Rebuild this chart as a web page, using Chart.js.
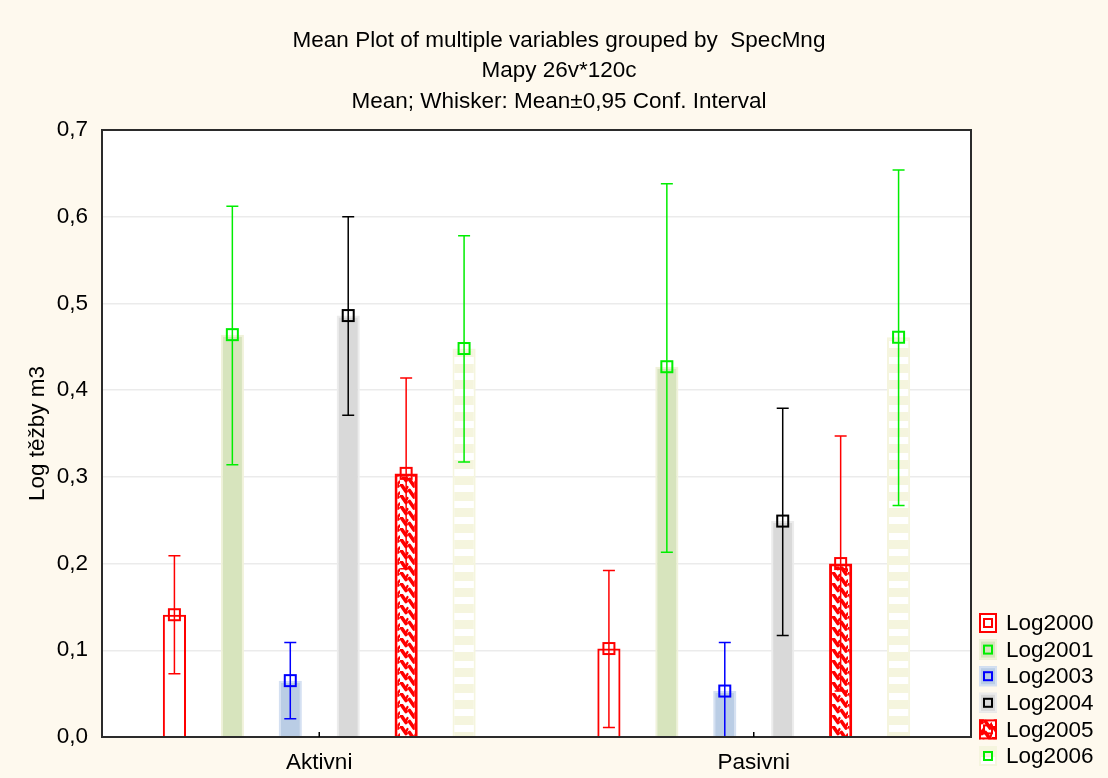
<!DOCTYPE html>
<html><head><meta charset="utf-8">
<script src="https://cdn.jsdelivr.net/npm/chart.js@4.4.1/dist/chart.umd.min.js"></script>
<style>html,body{margin:0;padding:0;background:#FEF9EE;} #wrap{width:1108px;height:778px;position:relative;}</style>
</head><body><div id="wrap"><canvas id="c" width="1108" height="778"></canvas></div>
<script>
// ---- data ----
const categories = ['Aktivni', 'Pasivni'];
const seriesNames = ['Log2000', 'Log2001', 'Log2003', 'Log2004', 'Log2005', 'Log2006'];
const meanLog2000 = [0.141, 0.102];
const meanLog2001 = [0.464, 0.427];
const meanLog2003 = [0.065, 0.053];
const meanLog2004 = [0.486, 0.249];
const meanLog2005 = [0.304, 0.200];
const meanLog2006 = [0.448, 0.461];
const lowLog2000 = [0.073, 0.011];
const lowLog2001 = [0.314, 0.213];
const lowLog2003 = [0.021, -0.004];
const lowLog2004 = [0.371, 0.117];
const lowLog2005 = [0.194, 0.053];
const lowLog2006 = [0.317, 0.267];
const highLog2000 = [0.209, 0.192];
const highLog2001 = [0.612, 0.638];
const highLog2003 = [0.109, 0.109];
const highLog2004 = [0.600, 0.379];
const highLog2005 = [0.414, 0.347];
const highLog2006 = [0.578, 0.654];
const titleLines = ['Mean Plot of multiple variables grouped by  SpecMng', 'Mapy 26v*120c', 'Mean; Whisker: Mean\u00B10,95 Conf. Interval'];
const yAxisTitle = 'Log t\u011B\u017Eby m3';
const yMin = 0, yMax = 0.7, yStep = 0.1;

const means = [meanLog2000, meanLog2001, meanLog2003, meanLog2004, meanLog2005, meanLog2006];
const lows = [lowLog2000, lowLog2001, lowLog2003, lowLog2004, lowLog2005, lowLog2006];
const highs = [highLog2000, highLog2001, highLog2003, highLog2004, highLog2005, highLog2006];

// ---- styles ----
const FONT = "'Liberation Sans', Arial, sans-serif";
const FS = 22.5;
const ctx0 = document.getElementById('c').getContext('2d');
function makePattern(w, h, draw) {
  const c = document.createElement('canvas'); c.width = w; c.height = h;
  const g = c.getContext('2d'); draw(g, w, h);
  return ctx0.createPattern(c, 'repeat');
}
const pat2005 = makePattern(16, 11, (g, w, h) => {
  g.fillStyle = '#ffffff'; g.fillRect(0, 0, w, h);
  g.strokeStyle = '#ff0000'; g.lineWidth = 3.6; g.lineCap = 'round';
  g.beginPath();
  g.moveTo(1.5, 1); g.lineTo(6, 7.5);
  g.moveTo(9.5, 6.5); g.lineTo(14, 13);
  g.moveTo(9.5, -4.5); g.lineTo(14, 2);
  g.stroke();
  g.lineWidth = 2.2;
  g.beginPath();
  g.moveTo(7.5, 3); g.lineTo(6.5, 5);
  g.moveTo(15.5, 8.5); g.lineTo(14.5, 10.5);
  g.stroke();
});
const pat2006 = makePattern(4, 16, (g, w, h) => {
  g.fillStyle = 'rgb(245,245,222)'; g.fillRect(0, 0, w, h);
  g.fillStyle = '#ffffff'; g.fillRect(0, 5, w, 7);
});
const fills = ['rgba(255,255,255,0)', 'rgb(215,228,189)', 'rgb(186,205,229)', 'rgb(217,217,217)', pat2005, pat2006];
const borders = ['#ff0000', 'rgb(240,242,218)', 'rgb(212,224,242)', 'rgb(236,236,236)', '#ff0000', 'rgb(245,245,222)'];
const borderW = [2, 2, 2, 2, 3, 2];
const markColors = ['#ff0000', '#00ee00', '#0000ff', '#000000', '#ff0000', '#00ee00'];

const datasets = seriesNames.map((n, i) => ({
  label: n, data: means[i], backgroundColor: fills[i], borderColor: borders[i], borderWidth: borderW[i],
  categoryPercentage: 0.8, barPercentage: 0.4
}));

const PLOT = { left: 102, top: 130, right: 971, bottom: 737 };

const decoPlugin = {
  id: 'deco',
  beforeDraw(chart) {
    const c = chart.ctx, a = chart.chartArea;
    c.save();
    c.fillStyle = '#FEF9EE'; c.fillRect(0, 0, chart.width, chart.height);
    c.fillStyle = '#ffffff'; c.fillRect(a.left, a.top, a.right - a.left, a.bottom - a.top);
    c.restore();
  },
  afterDatasetsDraw(chart) {
    const c = chart.ctx, a = chart.chartArea, ys = chart.scales.y;
    c.save();
    c.beginPath(); c.rect(a.left, a.top, a.right - a.left, a.bottom - a.top); c.clip();
    datasets.forEach((ds, d) => {
      const meta = chart.getDatasetMeta(d);
      meta.data.forEach((bar, i) => {
        const x = bar.x;
        const yh = ys.getPixelForValue(highs[d][i]);
        const yl = ys.getPixelForValue(lows[d][i]);
        const ym = ys.getPixelForValue(means[d][i]);
        c.strokeStyle = markColors[d]; c.lineWidth = 1.5;
        c.beginPath();
        c.moveTo(x, yh); c.lineTo(x, yl);
        c.moveTo(x - 6, yh); c.lineTo(x + 6, yh);
        c.moveTo(x - 6, yl); c.lineTo(x + 6, yl);
        c.stroke();
        c.lineWidth = 2;
        c.strokeRect(x - 5.5, ym - 5.5, 11, 11);
      });
    });
    c.restore();
  },
  afterDraw(chart) {
    const c = chart.ctx, a = chart.chartArea, xs = chart.scales.x;
    c.save();
    // frame
    c.strokeStyle = '#2b2b2b'; c.lineWidth = 2;
    c.strokeRect(a.left, a.top, a.right - a.left, a.bottom - a.top);
    // inner x ticks
    c.lineWidth = 1.5; c.strokeStyle = '#000';
    categories.forEach((cat, i) => {
      const x = xs.getPixelForTick(i);
      c.beginPath(); c.moveTo(x, a.bottom); c.lineTo(x, a.bottom - 5); c.stroke();
    });
    // titles
    c.fillStyle = '#000'; c.font = FS + 'px ' + FONT; c.textAlign = 'center'; c.textBaseline = 'middle';
    const ty = [41, 71, 102];
    titleLines.forEach((t, i) => c.fillText(t, 559, ty[i]));
    // y axis title
    c.save(); c.translate(38, (a.top + a.bottom) / 2); c.rotate(-Math.PI / 2);
    c.fillText(yAxisTitle, 0, 0); c.restore();
    // legend
    c.textAlign = 'left';
    seriesNames.forEach((n, i) => {
      const cy = 623 + i * 26.6;
      const bx = 979, bw = 18, bh = 20, by = cy - bh / 2;
      c.fillStyle = fills[i] === 'rgba(255,255,255,0)' ? '#ffffff' : fills[i];
      c.fillRect(bx, by, bw, bh);
      c.strokeStyle = borders[i]; c.lineWidth = 2;
      c.strokeRect(bx + 1, by + 1, bw - 2, bh - 2);
      c.strokeStyle = markColors[i];
      c.strokeRect(bx + 5, cy - 4, 8, 8);
      c.fillStyle = '#000'; c.font = FS + 'px ' + FONT;
      c.fillText(n, 1006, cy + 1);
    });
    c.restore();
  }
};

Chart.defaults.font.family = FONT;
new Chart(document.getElementById('c'), {
  type: 'bar',
  data: { labels: categories, datasets },
  options: {
    responsive: false, animation: false, devicePixelRatio: 1,
    layout: { padding: { left: 0, top: PLOT.top, right: 1108 - PLOT.right, bottom: 0 } },
    plugins: { legend: { display: false }, title: { display: false }, tooltip: { enabled: false } },
    scales: {
      x: {
        grid: { display: false, drawTicks: false }, border: { display: false },
        ticks: { color: '#000', font: { size: FS }, padding: 12 },
        afterFit(s) { s.height = 778 - PLOT.bottom; }
      },
      y: {
        min: yMin, max: yMax,
        grid: { color: '#ebebeb', lineWidth: 1.5, drawTicks: false }, border: { display: false },
        ticks: { stepSize: yStep, color: '#000', font: { size: FS }, padding: 14,
          callback: v => Number(v).toFixed(1).replace('.', ',') },
        afterFit(s) { s.width = PLOT.left; }
      }
    }
  },
  plugins: [decoPlugin]
});
</script></body></html>
